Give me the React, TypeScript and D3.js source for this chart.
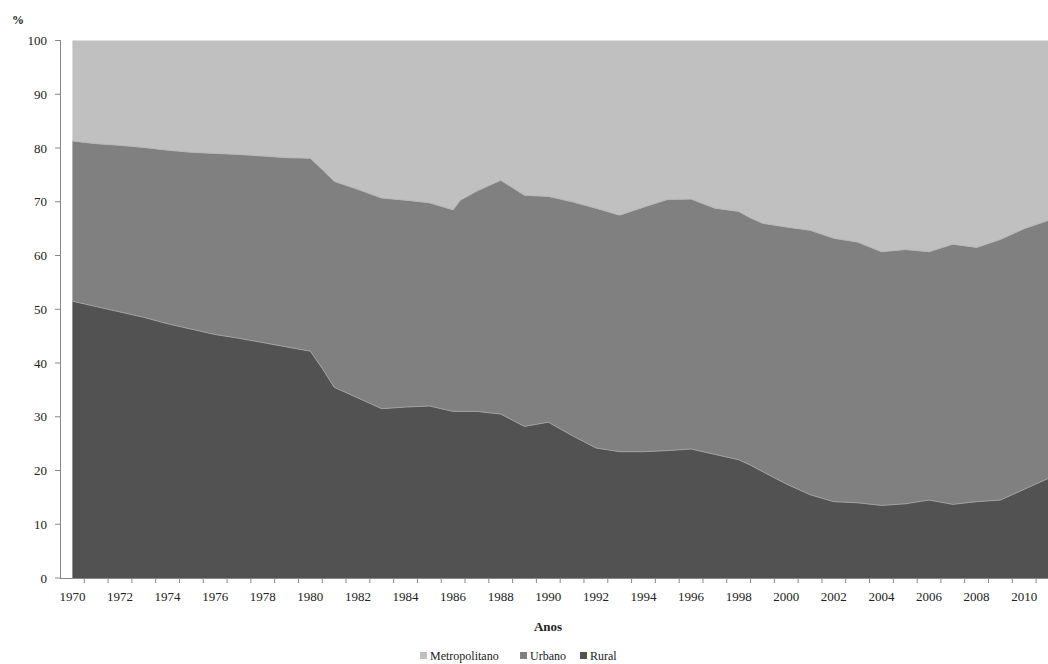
import React from "react";
import * as d3 from "d3";

const years = [1970,1971,1972,1973,1974,1975,1976,1977,1978,1979,1980,1980.5,1981,1982,1983,1984,1985,1986,1986.3,1987,1988,1989,1990,1991,1992,1993,1994,1995,1996,1997,1998,1998.5,1999,2000,2001,2002,2003,2004,2005,2006,2007,2008,2009,2010,2011];
const rural = [51.5,50.5,49.5,48.5,47.3,46.3,45.3,44.6,43.8,43,42.2,39,35.5,33.5,31.5,31.8,32,31,31,31,30.5,28.2,29,26.5,24.2,23.5,23.5,23.7,24,23,22,21,19.8,17.5,15.5,14.2,14,13.5,13.8,14.5,13.7,14.2,14.5,16.5,18.5];
const ruralUrbano = [81.3,80.8,80.5,80.1,79.6,79.2,79,78.8,78.5,78.2,78.1,76,73.8,72.3,70.7,70.3,69.8,68.5,70.3,72,74,71.2,71,70,68.8,67.5,69,70.4,70.5,68.8,68.2,67,66,65.3,64.7,63.2,62.5,60.7,61.1,60.7,62.1,61.5,63,65,66.5];
const yTicks = [0,10,20,30,40,50,60,70,80,90,100];
const xLabels = d3.range(1970, 2011, 2);
const legend = [["Metropolitano","#c0c0c0"],["Urbano","#808080"],["Rural","#525252"]];

export default function App() {
  const x = d3.scaleLinear().domain([1969.5, 2011]).range([60.5, 1048]);
  const y = d3.scaleLinear().domain([0, 100]).range([578, 40.5]);
  const idx = years.map((_, i) => i);
  const areaRural = d3.area<number>().x(i => x(years[i])).y0(y(0)).y1(i => y(rural[i]));
  const areaUrb = d3.area<number>().x(i => x(years[i])).y0(i => y(rural[i])).y1(i => y(ruralUrbano[i]));
  const areaMet = d3.area<number>().x(i => x(years[i])).y0(i => y(ruralUrbano[i])).y1(y(100));
  const line1 = d3.line<number>().x(i => x(years[i])).y(i => y(rural[i]));
  const line2 = d3.line<number>().x(i => x(years[i])).y(i => y(ruralUrbano[i]));
  return (
    <svg width={1048} height={664} style={{ position: "absolute", left: 0, top: 0, fontFamily: "'Liberation Serif', 'DejaVu Serif', serif" }}>
      <path d={areaMet(idx)!} fill="#c0c0c0" />
      <path d={areaUrb(idx)!} fill="#808080" />
      <path d={areaRural(idx)!} fill="#525252" />
      <path d={line2(idx)!} fill="none" stroke="#b8b8b8" strokeWidth={1} />
      <path d={line1(idx)!} fill="none" stroke="#a0a0a0" strokeWidth={1} />
      <line x1={60.5} x2={60.5} y1={40} y2={578} stroke="#888" />
      <line x1={60} x2={1048} y1={578.5} y2={578.5} stroke="#888" />
      {yTicks.map(t => (
        <g key={t}>
          <line x1={55} x2={60} y1={y(t)} y2={y(t)} stroke="#888" />
          <text x={47} y={y(t) + 4.5} fontSize={13} textAnchor="end" fill="#222">{t}</text>
        </g>
      ))}
      {d3.range(1970, 2011).map(t => (
        <line key={t} x1={x(t + 0.5)} x2={x(t + 0.5)} y1={578} y2={583} stroke="#888" />
      ))}
      {xLabels.map(t => (
        <text key={t} x={x(t)} y={601} fontSize={13} textAnchor="middle" fill="#222">{t}</text>
      ))}
      <text x={12} y={24} fontSize={12} fontWeight="bold" fill="#222">%</text>
      <text x={548} y={631} fontSize={13} fontWeight="bold" textAnchor="middle" fill="#222">Anos</text>
      {legend.map(([n, c], i) => {
        const lx = [420, 520, 580][i];
        return (
          <g key={n}>
            <rect x={lx} y={652} width={7} height={7} fill={c} />
            <text x={lx + 10} y={660} fontSize={12} fill="#222">{n}</text>
          </g>
        );
      })}
    </svg>
  );
}
